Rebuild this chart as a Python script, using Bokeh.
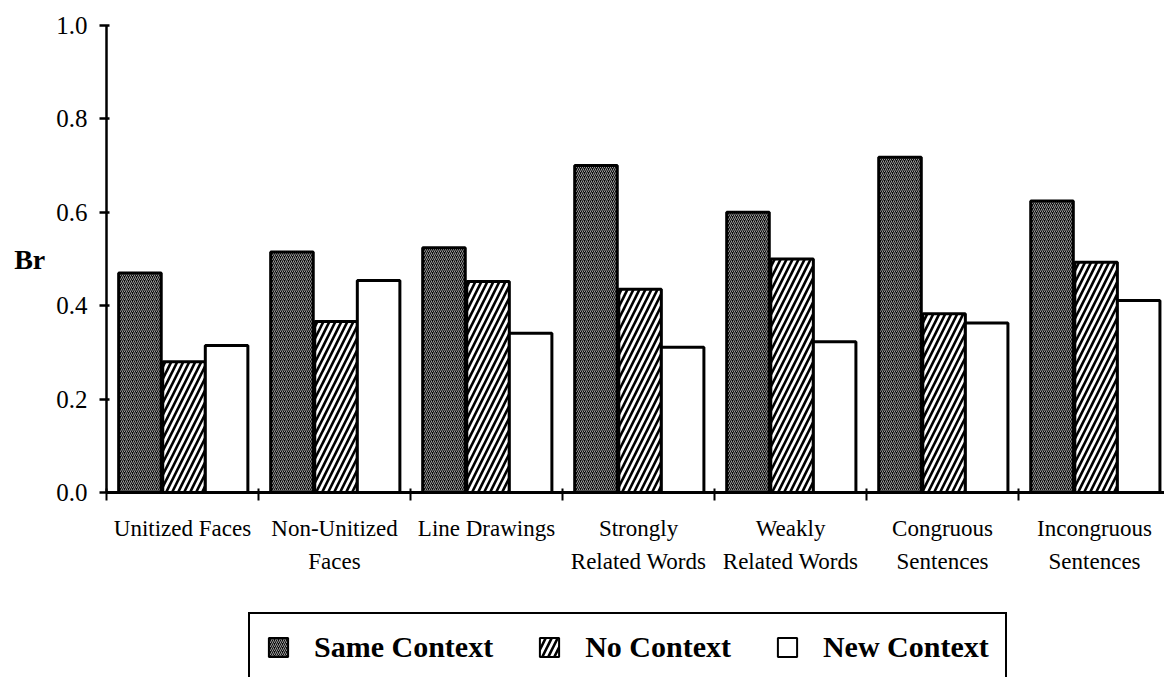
from bokeh.plotting import figure
from bokeh.layouts import column
from bokeh.models import Range1d, FixedTicker, Legend, LegendItem, ColumnDataSource
from bokeh.embed import file_html
from bokeh.resources import INLINE

categories = ["Unitized Faces", "Non-Unitized\nFaces", "Line Drawings",
              "Strongly\nRelated Words", "Weakly\nRelated Words",
              "Congruous\nSentences", "Incongruous\nSentences"]
same_context = [0.470, 0.515, 0.524, 0.700, 0.600, 0.718, 0.624]
no_context = [0.280, 0.366, 0.452, 0.435, 0.500, 0.383, 0.493]
new_context = [0.315, 0.454, 0.341, 0.311, 0.323, 0.363, 0.411]
series_names = ["Same Context", "No Context", "New Context"]
y_ticks = [0.0, 0.2, 0.4, 0.6, 0.8, 1.0]
y_tick_labels = ["0.0", "0.2", "0.4", "0.6", "0.8", "1.0"]

SERIF = "Liberation Serif"

p = figure(width=1164, height=612, output_backend="svg", toolbar_location=None,
           x_range=Range1d(0, 6.96), y_range=Range1d(0, 1.0),
           min_border_left=106, min_border_right=0, min_border_top=25,
           min_border_bottom=120)
p.outline_line_color = None
p.xgrid.visible = False
p.ygrid.visible = False
p.background_fill_color = "white"
p.border_fill_color = "white"

n = len(categories)
centers = [i + 0.5 for i in range(n)]
offsets = [-0.28, 0.01, 0.29]
bar_w = 0.28

styles = [
    dict(fill_color="#0a0a0a", hatch_pattern="/", hatch_color="#9a9a9a",
         hatch_scale=4, hatch_weight=1.0),
    dict(fill_color="white", hatch_pattern="/", hatch_color="black",
         hatch_scale=12, hatch_weight=2.6),
    dict(fill_color="white"),
]

sources = []
for vals, off, st in zip([same_context, no_context, new_context], offsets, styles):
    src = ColumnDataSource(dict(x=[c + off for c in centers], top=vals))
    sources.append(src)
    p.vbar(x="x", top="top", bottom=0, width=bar_w, source=src,
           line_color="black", line_width=3, **st)

# y axis
ya = p.yaxis[0]
ya.ticker = FixedTicker(ticks=y_ticks, minor_ticks=[])
ya.major_label_overrides = {t: l for t, l in zip(y_ticks, y_tick_labels)}
ya.axis_line_width = 2.5
ya.axis_line_color = "black"
ya.major_tick_line_width = 2.5
ya.major_tick_in = 3
ya.major_tick_out = 7
ya.minor_tick_line_color = None
ya.major_label_text_font = SERIF
ya.major_label_text_font_size = "25px"
ya.major_label_text_color = "black"
ya.major_label_standoff = 12
ya.axis_label = "Br"
ya.axis_label_orientation = "horizontal"
ya.axis_label_text_font = SERIF
ya.axis_label_text_font_style = "bold"
ya.axis_label_text_font_size = "28px"
ya.axis_label_text_color = "black"
ya.axis_label_standoff = 8

# x axis
xa = p.xaxis[0]
xa.ticker = FixedTicker(ticks=centers, minor_ticks=list(range(n)))
xa.major_label_overrides = {c: lab for c, lab in zip(centers, categories)}
xa.axis_line_width = 3
xa.axis_line_color = "black"
xa.major_tick_in = 0
xa.major_tick_out = 0
xa.major_tick_line_color = None
xa.minor_tick_in = 4
xa.minor_tick_out = 8
xa.minor_tick_line_width = 2
xa.minor_tick_line_color = "black"
xa.major_label_text_font = SERIF
xa.major_label_text_font_size = "23px"
xa.major_label_text_color = "black"
xa.major_label_text_line_height = 1.35
xa.major_label_standoff = 15

# legend strip (the reference legend box runs past the bottom edge).
# Its renderers reuse the same data; the ranges squeeze those bars into the
# area that the opaque legend box covers, so only the legend shows.
lf = figure(width=1164, height=65, output_backend="svg", toolbar_location=None,
            x_range=Range1d(-1.555, 8.73), y_range=Range1d(0, 3),
            x_axis_location=None, y_axis_location=None,
            min_border=0, min_border_left=0, min_border_right=0,
            min_border_top=0, min_border_bottom=0)
lf.outline_line_color = None
lf.xgrid.visible = False
lf.ygrid.visible = False
lf.background_fill_color = "white"
lf.border_fill_color = "white"

leg_renderers = []
for src, st in zip(sources, styles):
    r = lf.vbar(x="x", top="top", bottom=0, width=bar_w, source=src,
                line_color="black", line_width=2, **st)
    leg_renderers.append(r)

legend = Legend(
    items=[LegendItem(label=nm, renderers=[r]) for nm, r in zip(series_names, leg_renderers)],
    location=(142, -5),
    orientation="horizontal",
    glyph_width=24, glyph_height=24,
    label_standoff=24, spacing=44, padding=16, margin=0,
    label_text_font=SERIF, label_text_font_style="bold",
    label_text_font_size="30px", label_text_color="black",
    border_line_color="black", border_line_width=2, border_line_alpha=1.0,
    background_fill_color="white", background_fill_alpha=1.0,
)
lf.add_layout(legend, "center")

layout = column(p, lf, spacing=0)
open("out.html", "w").write(file_html(layout, INLINE))
